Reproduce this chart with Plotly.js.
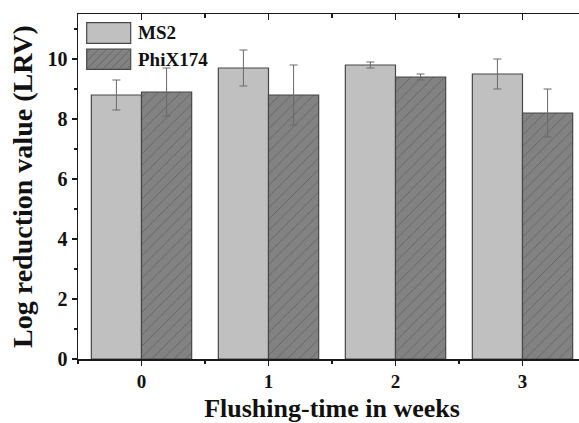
<!DOCTYPE html>
<html>
<head>
<meta charset="utf-8">
<script src="https://cdn.plot.ly/plotly-3.0.1.min.js"></script>
<style>
html,body{margin:0;padding:0;overflow:hidden;background:#fff;}
#chart{width:590px;height:423px;}
</style>
</head>
<body>
<div id="chart"></div>
<script>
// Data
const weeks = [0, 1, 2, 3];
const tickLabels = ['0', '1', '2', '3'];
const ms2 = [8.8, 9.7, 9.8, 9.5];
const ms2Err = [0.5, 0.6, 0.1, 0.5];
const phix = [8.9, 8.8, 9.4, 8.2];
const phixErr = [0.8, 1.0, 0.1, 0.8];
const seriesNames = ['MS2', 'PhiX174'];

const FONT = 'Liberation Serif, Times New Roman, serif';
const W = 590, H = 423;
const M = {l: 78, r: 4, t: 14, b: 64};
const pw = W - M.l - M.r, ph = H - M.t - M.b;
const px2x = p => (p - M.l) / pw;
const px2y = p => (H - M.b - p) / ph;

const traces = [
  {
    type: 'bar', name: seriesNames[0], x: weeks, y: ms2,
    marker: {color: '#c0c0c0', line: {color: '#474747', width: 1.2}},
    error_y: {type: 'data', array: ms2Err, visible: true, color: '#6a6a6a', thickness: 1, width: 4},
    showlegend: false, hoverinfo: 'y'
  },
  {
    type: 'bar', name: seriesNames[1], x: weeks, y: phix,
    marker: {color: '#808080', line: {color: '#474747', width: 1.2},
      pattern: {shape: '/', bgcolor: '#828282', fgcolor: '#5e5e5e', size: 8, solidity: 0.1}},
    error_y: {type: 'data', array: phixErr, visible: true, color: '#6a6a6a', thickness: 1, width: 4},
    showlegend: false, hoverinfo: 'y'
  },
  {type: 'scatter', x: [], y: [], xaxis: 'x2', yaxis: 'y2', showlegend: false, hoverinfo: 'skip'}
];

// Legend drawn as shapes + text
const shapes = [];
const annotations = [];
const sw = {x0: 86.7, x1: 130.7};
const rows = [{y0: 22.7, y1: 43.3, ty: 33}, {y0: 49, y1: 69.3, ty: 59}];
shapes.push({type: 'rect', xref: 'paper', yref: 'paper', x0: px2x(sw.x0), x1: px2x(sw.x1),
  y0: px2y(rows[0].y1), y1: px2y(rows[0].y0), fillcolor: '#c0c0c0', line: {color: '#474747', width: 1.2}});
shapes.push({type: 'rect', xref: 'paper', yref: 'paper', x0: px2x(sw.x0), x1: px2x(sw.x1),
  y0: px2y(rows[1].y1), y1: px2y(rows[1].y0), fillcolor: '#828282', line: {color: '#474747', width: 1.2}});
// hatch lines for PhiX legend swatch
(function(){
  const x0 = sw.x0, x1 = sw.x1, top = rows[1].y0, bot = rows[1].y1, h = bot - top;
  for (let s = x0 + 4; s < x1 + h; s += 8) {
    let ax = s - h, ay = bot, bx = s, by = top;
    if (ax < x0) { ay = bot - (x0 - ax); ax = x0; }
    if (bx > x1) { by = top + (bx - x1); bx = x1; }
    if (ax >= bx) continue;
    shapes.push({type: 'line', xref: 'paper', yref: 'paper', x0: px2x(ax), y0: px2y(ay), x1: px2x(bx), y1: px2y(by),
      line: {color: '#5e5e5e', width: 0.8}});
  }
})();
seriesNames.forEach((n, i) => {
  annotations.push({xref: 'paper', yref: 'paper', x: px2x(136), y: px2y(rows[i].ty), xanchor: 'left', yanchor: 'middle',
    text: '<b>' + n + '</b>', showarrow: false, font: {family: FONT, size: 19, color: '#111'}});
});

const axisCommon = {showgrid: false, zeroline: false, showline: true, linecolor: '#1a1a1a', linewidth: 1.5,
  tickcolor: '#1a1a1a', tickwidth: 1.5, ticklen: 5};

const layout = {
  width: W, height: H, margin: M,
  paper_bgcolor: '#fff', plot_bgcolor: '#fff',
  barmode: 'group', bargap: 0.21, bargroupgap: 0,
  showlegend: false,
  font: {family: FONT, color: '#111'},
  xaxis: Object.assign({}, axisCommon, {
    range: [-0.5, 3.5], tickvals: weeks, ticktext: tickLabels, ticks: 'outside',
    tickfont: {family: FONT, size: 19, color: '#111', weight: 'bold'},
    minor: {ticks: 'outside', tick0: 0.5, dtick: 1, ticklen: 3, tickcolor: '#1a1a1a', tickwidth: 1.2},
    title: {text: '<b>Flushing-time in weeks</b>', font: {family: FONT, size: 26, color: '#111'}, standoff: 10}
  }),
  xaxis2: Object.assign({}, axisCommon, {
    overlaying: 'x', side: 'top', anchor: 'y', range: [-0.5, 3.5], tickvals: weeks, ticks: 'inside',
    showticklabels: false, ticklen: 6,
    minor: {ticks: 'inside', tick0: 0.5, dtick: 1, ticklen: 4, tickcolor: '#1a1a1a', tickwidth: 1.2}
  }),
  yaxis: Object.assign({}, axisCommon, {
    range: [0, 11.5], tick0: 0, dtick: 2, ticks: 'outside',
    tickfont: {family: FONT, size: 20, color: '#111', weight: 'bold'},
    minor: {ticks: 'outside', tick0: 1, dtick: 2, ticklen: 3, tickcolor: '#1a1a1a', tickwidth: 1.2},
    title: {text: '<b>Log reduction value (LRV)</b>', font: {family: FONT, size: 28, color: '#111'}, standoff: 6}
  }),
  yaxis2: Object.assign({}, axisCommon, {
    overlaying: 'y', side: 'right', anchor: 'x', range: [0, 11.5], dtick: 1, ticks: 'inside',
    showticklabels: false, ticklen: 5
  }),
  shapes: shapes,
  annotations: annotations
};

Plotly.newPlot('chart', traces, layout, {displayModeBar: false, staticPlot: true});
</script>
</body>
</html>
